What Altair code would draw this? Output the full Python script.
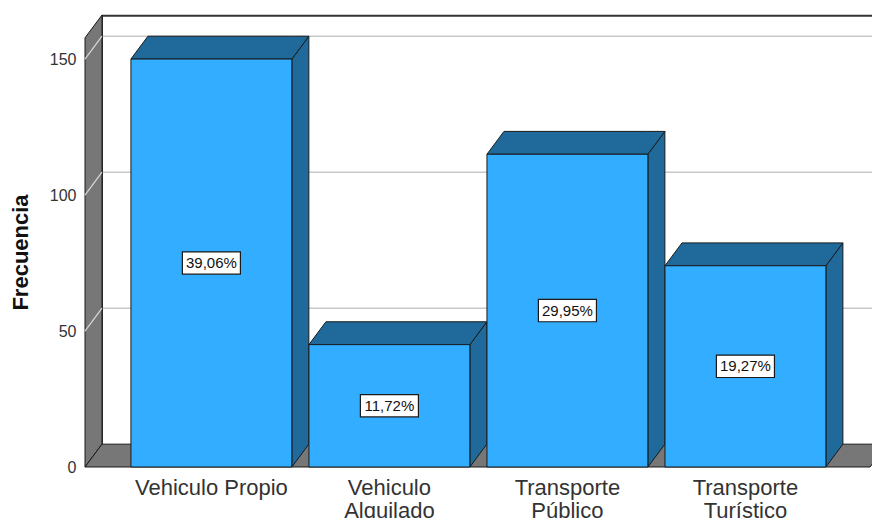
import altair as alt
import pandas as pd

# ---- data ----
categories = ["Vehiculo Propio", "Vehiculo Alquilado", "Transporte Público", "Transporte Turístico"]
label_lines = ["Vehiculo Propio", "Vehiculo\nAlquilado", "Transporte\nPúblico", "Transporte\nTurístico"]
counts = [150, 45, 115, 74]
y_ticks = [0, 50, 100, 150]

total = sum(counts)
pct_labels = [f"{c / total * 100:.2f}".replace(".", ",") + "%" for c in counts]

# ---- styling / geometry constants (3D look) ----
X_MIN, X_MAX = -0.71, 3.711
Y_MAX = 166.2
HW = 0.452      # half bar width (category units)
DX = 0.0955     # depth offset x
DY = 8.4        # depth offset y
BOX_HW = 0.163
BOX_HH = 4.1
FLOOR_RIGHT = 3.70

FRONT = "#33adff"
DARK = "#1f6a9b"
GRAY = "#777777"
EDGE = "#1a1a1a"
FONT = "Liberation Sans"

xscale = alt.Scale(domain=[X_MIN, X_MAX], nice=False, zero=False)
yscale = alt.Scale(domain=[0, Y_MAX], nice=False, zero=False)
yaxis = alt.Axis(values=y_ticks, domain=False, ticks=False, grid=False,
                 labelPadding=9, labelFontSize=16, labelFont=FONT, labelColor="#333333",
                 titleFontSize=22, titleFont=FONT, titleFontWeight="bold", titleColor="#111111",
                 titleX=-65, titleY=237, titleAngle=-90, titleAlign="center", titleBaseline="middle")


def X(f):
    return alt.X(f, type="quantitative", scale=xscale, axis=None)


def Y(f):
    return alt.Y(f, type="quantitative", scale=yscale, axis=yaxis, title="Frecuencia", stack=None)


# ---- tables built from the arrays ----
front = pd.DataFrame({
    "cat": categories,
    "lab": label_lines,
    "idx": list(range(len(categories))),
    "v": counts,
    "pct": pct_labels,
})
front["x0"] = front["idx"] - HW
front["x1"] = front["idx"] + HW
front["zero"] = 0.0
front["mid"] = front["v"] / 2
front["bx0"] = front["idx"] - BOX_HW
front["bx1"] = front["idx"] + BOX_HW
front["by0"] = front["mid"] - BOX_HH
front["by1"] = front["mid"] + BOX_HH

poly = []
# left wall
poly += [dict(pid="wall", x=X_MIN, lo=0.0, hi=Y_MAX - DY, fill=GRAY),
         dict(pid="wall", x=X_MIN + DX, lo=DY, hi=Y_MAX, fill=GRAY)]
# floor
poly += [dict(pid="floor", x=X_MIN, lo=0.0, hi=0.0, fill=GRAY),
         dict(pid="floor", x=X_MIN + DX, lo=0.0, hi=DY, fill=GRAY),
         dict(pid="floor", x=FLOOR_RIGHT, lo=0.0, hi=DY, fill=GRAY),
         dict(pid="floor", x=FLOOR_RIGHT + DX, lo=DY, hi=DY, fill=GRAY)]
bars_poly = []
for i, v in enumerate(counts):
    x0, x1 = i - HW, i + HW
    bars_poly += [dict(pid=f"side{i}", x=x1, lo=0.0, hi=v, fill=DARK),
                  dict(pid=f"side{i}", x=x1 + DX, lo=DY, hi=v + DY, fill=DARK)]
    bars_poly += [dict(pid=f"top{i}", x=x0, lo=v, hi=v, fill=DARK),
                  dict(pid=f"top{i}", x=x0 + DX, lo=v, hi=v + DY, fill=DARK),
                  dict(pid=f"top{i}", x=x1, lo=v, hi=v + DY, fill=DARK),
                  dict(pid=f"top{i}", x=x1 + DX, lo=v + DY, hi=v + DY, fill=DARK)]
poly_df = pd.DataFrame(poly)
bars_df = pd.DataFrame(bars_poly)

grid_back = pd.DataFrame({"y": [t + DY for t in y_ticks[1:]], "x": X_MIN + DX, "x2": X_MAX})
grid_side = pd.DataFrame({"y": [float(t) for t in y_ticks[1:]], "y2": [t + DY for t in y_ticks[1:]],
                          "x": X_MIN, "x2": X_MIN + DX})
border = pd.DataFrame({"x": [X_MIN + DX, X_MIN + DX], "x2": [X_MAX, X_MIN + DX],
                       "y": [Y_MAX - 0.3, DY], "y2": [Y_MAX - 0.3, Y_MAX - 0.3]})

# ---- layers ----
l_grid = alt.Chart(grid_back).mark_rule(color="#c8c8c8", strokeWidth=1.5).encode(
    x=X("x"), x2="x2", y=Y("y"))
l_border = alt.Chart(border).mark_rule(color="#333333", strokeWidth=2).encode(
    x=X("x"), x2="x2", y=Y("y"), y2="y2")
l_walls = alt.Chart(poly_df).mark_area(orient="vertical", stroke=EDGE, strokeWidth=1, opacity=1).encode(
    x=X("x"), y=Y("lo"), y2="hi", detail="pid:N", fill=alt.Fill("fill:N", scale=None))
l_gside = alt.Chart(grid_side).mark_rule(color="#d8d8d8", strokeWidth=1.2).encode(
    x=X("x"), x2="x2", y=Y("y"), y2="y2")
l_bars3d = alt.Chart(bars_df).mark_area(orient="vertical", stroke=EDGE, strokeWidth=1, opacity=1).encode(
    x=X("x"), y=Y("lo"), y2="hi", detail="pid:N", fill=alt.Fill("fill:N", scale=None))
l_front = alt.Chart(front).mark_rect(color=FRONT, stroke=EDGE, strokeWidth=1).encode(
    x=X("x0"), x2="x1", y=Y("zero"), y2="v")
l_box = alt.Chart(front).mark_rect(color="white", stroke=EDGE, strokeWidth=1.2).encode(
    x=X("bx0"), x2="bx1", y=Y("by0"), y2="by1")
l_pct = alt.Chart(front).mark_text(fontSize=15, font=FONT, color="#111111", baseline="middle", align="center").encode(
    x=X("idx"), y=Y("mid"), text="pct:N")
l_xlab = alt.Chart(front).mark_text(fontSize=22, font=FONT, color="#333333", baseline="top", align="center",
                                    dy=11, lineHeight=23, lineBreak="\n").encode(
    x=X("idx"), y=Y("zero"), text="lab:N")

chart = alt.layer(l_grid, l_border, l_walls, l_gside, l_bars3d, l_front, l_box, l_pct, l_xlab).properties(
    width=787, height=452,
    autosize=alt.AutoSizeParams(type="none"),
    padding={"left": 77, "top": 7, "right": 0, "bottom": 51},
    background="white",
).configure_view(stroke=None)

chart.save("out.html", embed_options={"renderer": "svg", "actions": False})
